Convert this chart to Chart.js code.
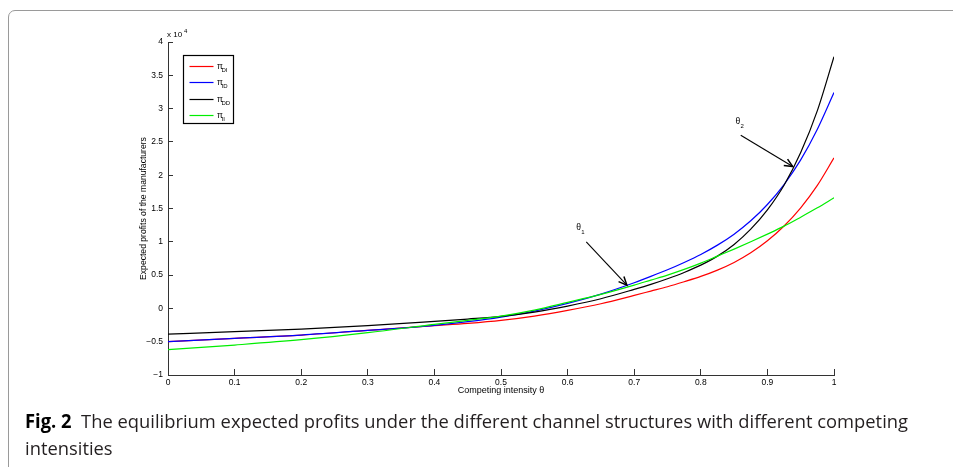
<!DOCTYPE html>
<html>
<head>
<meta charset="utf-8">
<script src="https://cdn.jsdelivr.net/npm/chart.js@4.4.1/dist/chart.umd.min.js"></script>
<style>
  html, body { margin: 0; padding: 0; background: #fff; }
  #wrap { position: relative; width: 953px; height: 467px; overflow: hidden; }
  #frame { position: absolute; left: 8px; top: 10px; width: 1000px; height: 520px; border: 1px solid #9a9a9a; border-radius: 7px; }
  #chart { position: absolute; left: 0; top: 0; }
  .cap { position: absolute; left: 25px; font-family: "Open Sans", sans-serif; font-size: 19px; color: #231f20; white-space: nowrap; transform-origin: 0 0; }
  .cap b { color: #000; }
</style>
</head>
<body>
<div id="wrap">
  <div id="frame"></div>
  <canvas id="chart" width="953" height="467"></canvas>
  <div class="cap" id="cap1" style="top:408px"><b>Fig. 2</b>&nbsp; The equilibrium expected profits under the different channel structures with different competing</div>
  <div class="cap" id="cap2" style="top:435px">intensities</div>
</div>
<script>
// competing intensity theta
const thetas = [0, 0.1, 0.2, 0.3, 0.4, 0.45, 0.5, 0.55, 0.6, 0.65, 0.7, 0.725, 0.75, 0.775, 0.8, 0.825, 0.85, 0.875, 0.9, 0.925, 0.95, 0.975, 1];
// expected profits, in units of 10^4
const piDI = [-0.5, -0.45, -0.40, -0.33, -0.26, -0.225, -0.18, -0.115, -0.03, 0.07, 0.195, 0.26, 0.325, 0.40, 0.48, 0.575, 0.69, 0.835, 1.015, 1.238, 1.511, 1.847, 2.26];
const piID = [-0.5, -0.45, -0.40, -0.33, -0.255, -0.2, -0.13, -0.04, 0.075, 0.215, 0.385, 0.48, 0.58, 0.69, 0.81, 0.95, 1.115, 1.315, 1.56, 1.86, 2.23, 2.69, 3.24];
const piDD = [-0.385, -0.35, -0.31, -0.26, -0.195, -0.16, -0.12, -0.055, 0.035, 0.145, 0.285, 0.36, 0.445, 0.54, 0.65, 0.785, 0.96, 1.19, 1.48, 1.85, 2.34, 2.97, 3.78];
const piII = [-0.62, -0.55, -0.47, -0.365, -0.24, -0.18, -0.115, -0.025, 0.09, 0.21, 0.35, 0.425, 0.5, 0.585, 0.68, 0.785, 0.89, 1.0, 1.115, 1.235, 1.37, 1.51, 1.66];

const seriesNames = ['DI', 'ID', 'DD', 'II'];
const xTicks = [0, 0.1, 0.2, 0.3, 0.4, 0.5, 0.6, 0.7, 0.8, 0.9, 1];
const yTicks = [-1, -0.5, 0, 0.5, 1, 1.5, 2, 2.5, 3, 3.5, 4];

// arrow annotations (data coords): label, tail, tip
const arrows = [
  { sub: '1', label: [0.613, 1.18], from: [0.628, 1.0], to: [0.689, 0.35] },
  { sub: '2', label: [0.852, 2.77], from: [0.86, 2.6], to: [0.938, 2.13] }
];

const colors = ['#ff0000', '#0000ff', '#000000', '#00ee00'];
const FONT = '"Liberation Sans", Arial, sans-serif';

function toPoints(ys) {
  return thetas.map((t, i) => ({ x: t, y: ys[i] }));
}

function minus(v) {
  return v < 0 ? '\u2212' + (-v) : String(v);
}

const extras = {
  id: 'extras',
  afterDraw(chart) {
    const ctx = chart.ctx;
    const xs = chart.scales.x, ys = chart.scales.y;
    const ca = chart.chartArea;
    ctx.save();
    ctx.fillStyle = '#000';
    ctx.strokeStyle = '#000';
    ctx.textBaseline = 'alphabetic';
    ctx.textAlign = 'left';

    // exponent label
    ctx.font = '8px ' + FONT;
    ctx.fillText('x 10', ca.left - 1, ca.top - 5);
    ctx.font = '6px ' + FONT;
    ctx.fillText('4', ca.left + 16, ca.top - 9);

    // legend box
    const bx = ca.left + 15.5, by = ca.top + 13.5, bw = 50, bh = 68;
    ctx.fillStyle = '#fff';
    ctx.fillRect(bx, by, bw, bh);
    ctx.lineWidth = 1.2;
    ctx.strokeRect(bx, by, bw, bh);
    const rowY = [10, 26.5, 43, 59];
    chart.data.datasets.forEach((ds, i) => {
      const y = Math.round(by + rowY[i]) + 0.5;
      ctx.strokeStyle = ds.borderColor;
      ctx.lineWidth = 1.2;
      ctx.beginPath();
      ctx.moveTo(bx + 6, y);
      ctx.lineTo(bx + 30, y);
      ctx.stroke();
      ctx.fillStyle = '#000';
      ctx.font = '8.5px ' + FONT;
      ctx.fillText('\u03c0', bx + 33.5, y + 2);
      ctx.font = '6px ' + FONT;
      ctx.fillText(seriesNames[i], bx + 38, y + 5);
    });

    // arrows
    ctx.strokeStyle = '#000';
    ctx.fillStyle = '#000';
    arrows.forEach(a => {
      const lx = xs.getPixelForValue(a.label[0]), ly = ys.getPixelForValue(a.label[1]);
      ctx.font = '8.5px ' + FONT;
      ctx.fillText('\u03b8', lx, ly);
      ctx.font = '6px ' + FONT;
      ctx.fillText(a.sub, lx + 5, ly + 4);

      const x1 = xs.getPixelForValue(a.from[0]), y1 = ys.getPixelForValue(a.from[1]);
      const x2 = xs.getPixelForValue(a.to[0]), y2 = ys.getPixelForValue(a.to[1]);
      ctx.lineWidth = 1.1;
      ctx.beginPath();
      ctx.moveTo(x1, y1);
      ctx.lineTo(x2, y2);
      ctx.stroke();
      const ang = Math.atan2(y2 - y1, x2 - x1);
      const L = 9, spread = 0.42;
      ctx.lineWidth = 1.5;
      ctx.beginPath();
      ctx.moveTo(x2 - L * Math.cos(ang - spread), y2 - L * Math.sin(ang - spread));
      ctx.lineTo(x2, y2);
      ctx.lineTo(x2 - L * Math.cos(ang + spread), y2 - L * Math.sin(ang + spread));
      ctx.stroke();
    });
    ctx.restore();
  }
};

const ctx = document.getElementById('chart').getContext('2d');
const myChart = new Chart(ctx, {
  type: 'line',
  data: {
    datasets: [piDI, piID, piDD, piII].map((vals, i) => ({
      label: '\u03c0' + seriesNames[i],
      data: toPoints(vals),
      borderColor: colors[i],
      backgroundColor: colors[i],
      borderWidth: 1.2,
      pointRadius: 0,
      fill: false,
      cubicInterpolationMode: 'monotone',
      order: 3 - i
    }))
  },
  options: {
    responsive: false,
    animation: false,
    devicePixelRatio: 1,
    layout: { padding: { top: 42, right: 119, left: 0, bottom: 0 } },
    plugins: { legend: { display: false }, tooltip: { enabled: false } },
    scales: {
      x: {
        type: 'linear',
        min: 0,
        max: 1,
        afterBuildTicks: scale => { scale.ticks = xTicks.map(v => ({ value: v })); },
        afterFit: scale => { scale.height = 92; },
        grid: { drawOnChartArea: false, drawTicks: true, tickLength: -6, color: '#333', lineWidth: 1 },
        border: { display: true, color: '#333', width: 1 },
        ticks: { padding: 9, maxRotation: 0, autoSkip: false, color: '#000', font: { family: FONT, size: 8.5 }, callback: v => String(v) },
        title: { display: true, text: 'Competing intensity \u03b8', color: '#000', font: { family: FONT, size: 9 }, padding: { top: 0, bottom: 71 } }
      },
      y: {
        min: -1,
        max: 4,
        afterBuildTicks: scale => { scale.ticks = yTicks.map(v => ({ value: v })); },
        afterFit: scale => { scale.width = 168; },
        grid: { drawOnChartArea: false, drawTicks: true, tickLength: -5, color: '#333', lineWidth: 1 },
        border: { display: true, color: '#333', width: 1 },
        ticks: { padding: 10, autoSkip: false, color: '#000', font: { family: FONT, size: 8.5 }, callback: v => minus(v) },
        title: { display: true, text: 'Expected profits of the manufacturers', color: '#000', font: { family: FONT, size: 8.6 }, padding: { top: 138, bottom: 0 } }
      }
    }
  },
  plugins: [extras]
});

// squeeze caption lines to the width used in the figure
const cap1 = document.getElementById('cap1');
const sx = 883 / cap1.getBoundingClientRect().width;
cap1.style.transform = 'scaleX(' + sx + ')';
document.getElementById('cap2').style.transform = 'scaleX(' + sx + ')';
</script>
</body>
</html>
